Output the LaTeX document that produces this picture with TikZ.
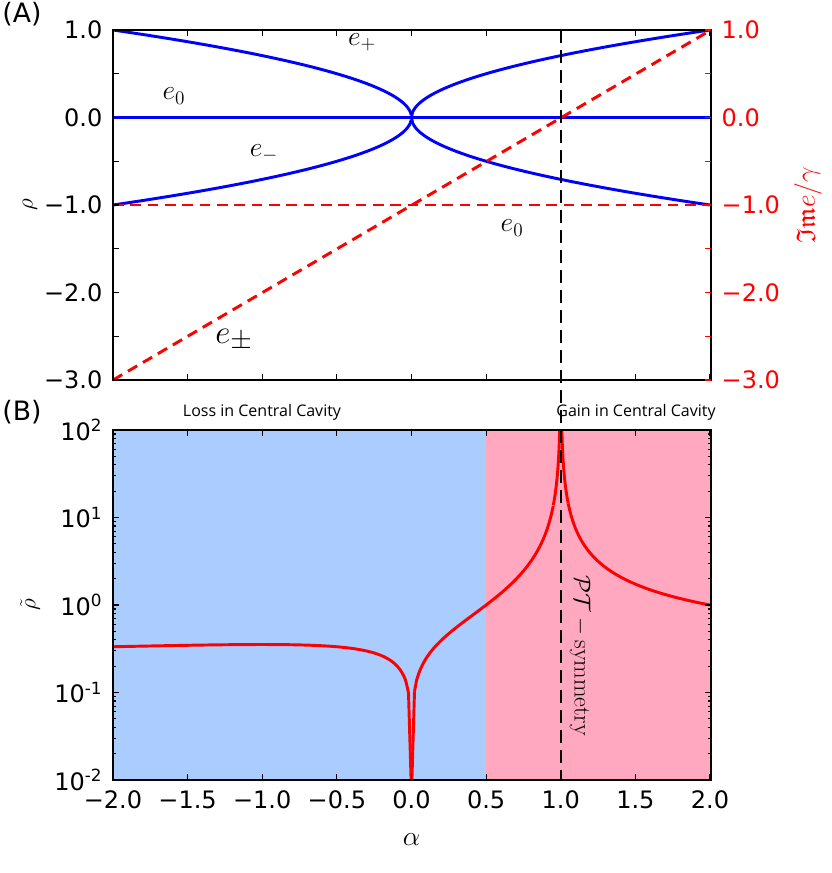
\documentclass[tikz,border=0pt]{standalone}
\usepackage{amssymb}
\usepackage{fontspec}
\newfontfamily\tickfont{DejaVu Sans}
\newfontfamily\notefont{Open Sans}
\definecolor{lossblue}{HTML}{AACCFF}
\definecolor{gainpink}{HTML}{FFA8C0}
\begin{document}
\begin{tikzpicture}[x=0.75pt,y=-0.75pt,
  tick/.style={font=\tickfont\fontsize{18}{20}\selectfont},
  curveb/.style={blue,line width=2.2pt},
  curver/.style={red,line width=2.2pt},
  frame/.style={black,line width=0.8pt}]
\useasboundingbox (0,0) rectangle (831,873);
% ---------- Panel A ----------
\begin{scope}
\clip (113,30) rectangle (711,380);
\draw[curveb] plot[domain=-2:0,samples=300] ({411.5+149.25*\x},{117.5-87.5*sqrt(-\x/2)});
\draw[curveb] plot[domain=-2:0,samples=300] ({411.5+149.25*\x},{117.5+87.5*sqrt(-\x/2)});
\draw[curveb] plot[domain=0:2,samples=300] ({411.5+149.25*\x},{117.5-87.5*sqrt(\x/2)});
\draw[curveb] plot[domain=0:2,samples=300] ({411.5+149.25*\x},{117.5+87.5*sqrt(\x/2)});
\draw[curveb] (113,117.5) -- (711,117.5);
\draw[red,line width=2.2pt,dash pattern=on 8pt off 5pt] (113,205) -- (711,205);
\draw[red,line width=2.2pt,dash pattern=on 8pt off 5pt] (113,380) -- (711,30);
\end{scope}
\draw[frame] (113,30) rectangle (711,380);
\foreach \i in {0,...,8}{
  \draw[frame] ({113+74.625*\i},30) -- ++(0,6);
  \draw[frame] ({113+74.625*\i},380) -- ++(0,-6);}
\foreach \i in {0,...,8}{
  \draw[frame] (113,{30+43.75*\i}) -- ++(6,0);
  \draw[red,line width=0.8pt] (711,{30+43.75*\i}) -- ++(-6,0);}
\foreach \v/\t in {0/1.0,1/0.0,2/\char"2212 1.0,3/\char"2212 2.0,4/\char"2212 3.0}{
  \node[tick,anchor=east] (ly\v) at (107,{30+87.5*\v}) {\t};
  \node[tick,anchor=west,red] (ry\v) at (717,{30+87.5*\v}) {\t};}
\node[font=\fontsize{22}{24}\selectfont] (ep) at (362,42) {$e_+$};
\node[font=\fontsize{22}{24}\selectfont] (e0a) at (174,96) {$e_0$};
\node[font=\fontsize{22}{24}\selectfont] (em) at (264,153) {$e_-$};
\node[font=\fontsize{22}{24}\selectfont] (e0b) at (512,228) {$e_0$};
\node[font=\fontsize{32}{34}\selectfont] (epm) at (234,340) {$e_\pm$};
\node[rotate=90,font=\fontsize{18}{20}\selectfont] (rholab) at (30,205) {$\rho$};
\node[rotate=90,red,font=\fontsize{20}{22}\selectfont] (imlab) at (808,205) {$\mathfrak{Im}e/\gamma$};
\node[tick,font=\tickfont\fontsize{20}{22}\selectfont] (labA) at (22,14) {(A)};
% ---------- Panel B ----------
\fill[lossblue] (113,430) rectangle (486.125,780);
\fill[gainpink] (486.125,430) rectangle (711,780);
\begin{scope}
\clip (113,430) rectangle (711,780);
\draw[curver] plot[domain=-2:-0.02,samples=200] ({411.5+149.25*\x},{605-87.5*log10(sqrt(-\x/2)/abs(\x-1))});
\draw[curver] plot[domain=-0.02:-0.0001,samples=200] ({411.5+149.25*\x},{605-87.5*log10(sqrt(-\x/2)/abs(\x-1))});
\draw[curver] plot[domain=0.0001:0.02,samples=200] ({411.5+149.25*\x},{605-87.5*log10(sqrt(\x/2)/abs(\x-1))});
\draw[curver] plot[domain=0.02:0.95,samples=200] ({411.5+149.25*\x},{605-87.5*log10(sqrt(\x/2)/abs(\x-1))});
\draw[curver] plot[domain=0.95:0.9995,samples=200] ({411.5+149.25*\x},{605-87.5*log10(sqrt(\x/2)/abs(\x-1))});
\draw[curver] plot[domain=1.0005:1.05,samples=200] ({411.5+149.25*\x},{605-87.5*log10(sqrt(\x/2)/abs(\x-1))});
\draw[curver] plot[domain=1.05:2,samples=200] ({411.5+149.25*\x},{605-87.5*log10(sqrt(\x/2)/abs(\x-1))});
\end{scope}
\draw[frame] (113,430) rectangle (711,780);
\foreach \i in {0,...,8}{
  \draw[frame] ({113+74.625*\i},430) -- ++(0,6);
  \draw[frame] ({113+74.625*\i},780) -- ++(0,-6);}
\foreach \d in {0,...,3}{
  \draw[frame] (113,{780-87.5*\d}) -- ++(6,0);
  \draw[frame] (711,{780-87.5*\d}) -- ++(-6,0);
  \foreach \k in {2,...,9}{
    \draw[frame] (113,{780-87.5*(\d+log10(\k))}) -- ++(3,0);
    \draw[frame] (711,{780-87.5*(\d+log10(\k))}) -- ++(-3,0);}}
\draw[frame] (113,430) -- ++(6,0);
\draw[frame] (711,430) -- ++(-6,0);
\foreach \d/\t in {0/-2,1/-1,2/0,3/1,4/2}{
  \node[tick,anchor=east] (by\d) at (107,{780-87.5*\d}) {10\textsuperscript{\t}};}
\foreach \i/\t in {0/\char"2212 2.0,1/\char"2212 1.5,2/\char"2212 1.0,3/\char"2212 0.5,4/0.0,5/0.5,6/1.0,7/1.5,8/2.0}{
  \node[tick,anchor=north] (bx\i) at ({113+74.625*\i},786) {\t};}
\node[font=\fontsize{20}{22}\selectfont] (alab) at (411.5,840) {$\alpha$};
\node[rotate=90,font=\fontsize{18}{20}\selectfont] (rtlab) at (30,605) {$\tilde\rho$};
\node[tick,font=\tickfont\fontsize{20}{22}\selectfont] (labB) at (22,412) {(B)};
\node[font=\notefont\fontsize{12}{14}\selectfont] (loss) at (262,412) {Loss in Central Cavity};
\node[font=\notefont\fontsize{12}{14}\selectfont] (gain) at (636,412) {Gain in Central Cavity};
\node[rotate=-90,font=\fontsize{18}{20}\selectfont] (pt) at (580,656) {$\mathcal{PT}-\mathrm{symmetry}$};
% dashed vertical at alpha=1
\coordinate (vt) at (561,30);
\coordinate (vb) at (561,780);
\draw[black,line width=0.8pt,dash pattern=on 10pt off 5pt] (vt) -- (vb);
\end{tikzpicture}
\end{document}
